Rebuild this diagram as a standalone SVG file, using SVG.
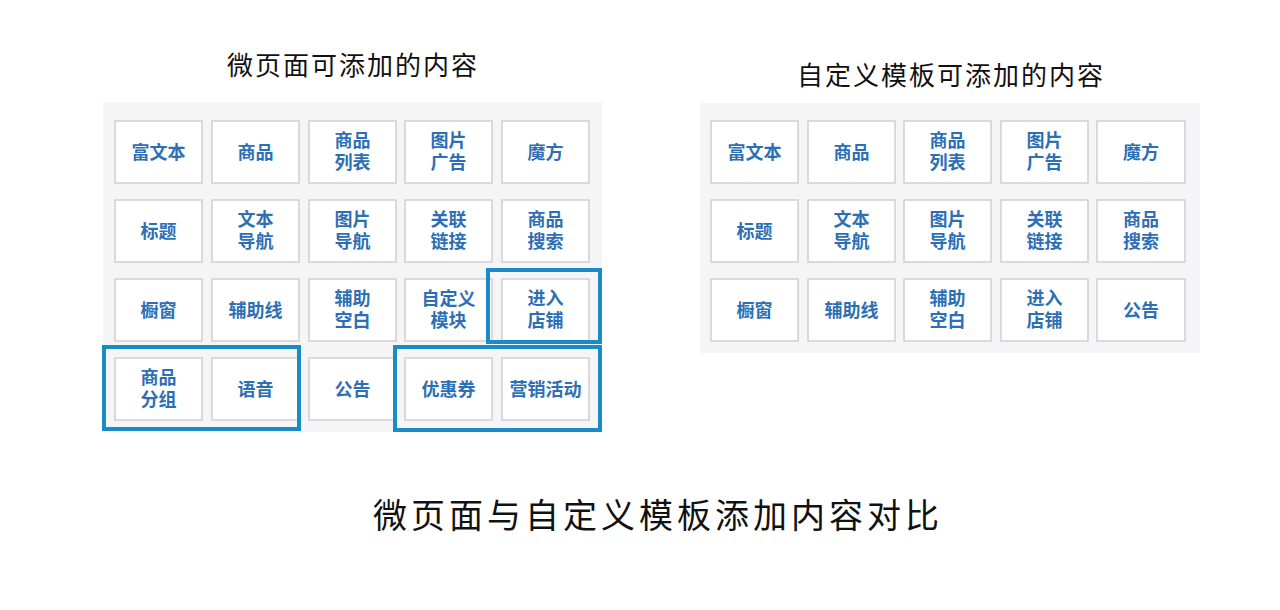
<svg xmlns="http://www.w3.org/2000/svg" width="1280" height="610" viewBox="0 0 1280 610">
<style>
.panel{fill:#f5f5f7}
.cell{fill:#ffffff;stroke:#cfcfd2;stroke-width:1.5}
.t{font-family:"Liberation Sans","Noto Sans CJK SC",sans-serif;font-size:18px;font-weight:700;fill:#2d6fb4;text-anchor:middle}
.title{font-family:"Liberation Sans","Noto Sans CJK SC",sans-serif;font-size:26px;fill:#111;text-anchor:middle;letter-spacing:2px}
.big{font-family:"Liberation Sans","Noto Sans CJK SC",sans-serif;font-size:34px;fill:#111;text-anchor:middle;letter-spacing:4px}
.hl{fill:none;stroke:#1a8bc9;stroke-width:4}
</style>
<rect width="1280" height="610" fill="#ffffff"/>
<text class="title" x="353" y="75">微页面可添加的内容</text>
<text class="title" x="951" y="85">自定义模板可添加的内容</text>
<text class="big" x="658" y="528">微页面与自定义模板添加内容对比</text>

<g id="left-panel">
<rect class="panel" x="103" y="102" width="499" height="330"/>
<g id="L11"><rect class="cell" x="115" y="121" width="87" height="62"/><text class="t" x="158.5" y="158.5">富文本</text></g>
<g id="L12"><rect class="cell" x="212" y="121" width="87" height="62"/><text class="t" x="255.5" y="158.5">商品</text></g>
<g id="L13"><rect class="cell" x="309" y="121" width="87" height="62"/><text class="t" x="352.5" y="147">商品<tspan x="352.5" dy="22">列表</tspan></text></g>
<g id="L14"><rect class="cell" x="405" y="121" width="87" height="62"/><text class="t" x="448.5" y="147">图片<tspan x="448.5" dy="22">广告</tspan></text></g>
<g id="L15"><rect class="cell" x="502" y="121" width="87" height="62"/><text class="t" x="545.5" y="158.5">魔方</text></g>

<g id="L21"><rect class="cell" x="115" y="200" width="87" height="62"/><text class="t" x="158.5" y="237.5">标题</text></g>
<g id="L22"><rect class="cell" x="212" y="200" width="87" height="62"/><text class="t" x="255.5" y="226">文本<tspan x="255.5" dy="22">导航</tspan></text></g>
<g id="L23"><rect class="cell" x="309" y="200" width="87" height="62"/><text class="t" x="352.5" y="226">图片<tspan x="352.5" dy="22">导航</tspan></text></g>
<g id="L24"><rect class="cell" x="405" y="200" width="87" height="62"/><text class="t" x="448.5" y="226">关联<tspan x="448.5" dy="22">链接</tspan></text></g>
<g id="L25"><rect class="cell" x="502" y="200" width="87" height="62"/><text class="t" x="545.5" y="226">商品<tspan x="545.5" dy="22">搜索</tspan></text></g>

<g id="L31"><rect class="cell" x="115" y="279" width="87" height="62"/><text class="t" x="158.5" y="316.5">橱窗</text></g>
<g id="L32"><rect class="cell" x="212" y="279" width="87" height="62"/><text class="t" x="255.5" y="316.5">辅助线</text></g>
<g id="L33"><rect class="cell" x="309" y="279" width="87" height="62"/><text class="t" x="352.5" y="305">辅助<tspan x="352.5" dy="22">空白</tspan></text></g>
<g id="L34"><rect class="cell" x="405" y="279" width="87" height="62"/><text class="t" x="448.5" y="305">自定义<tspan x="448.5" dy="22">模块</tspan></text></g>
<g id="L35"><rect class="cell" x="502" y="279" width="87" height="62"/><text class="t" x="545.5" y="305">进入<tspan x="545.5" dy="22">店铺</tspan></text></g>

<g id="L41"><rect class="cell" x="115" y="358" width="87" height="62"/><text class="t" x="158.5" y="384">商品<tspan x="158.5" dy="22">分组</tspan></text></g>
<g id="L42"><rect class="cell" x="212" y="358" width="87" height="62"/><text class="t" x="255.5" y="395.5">语音</text></g>
<g id="L43"><rect class="cell" x="309" y="358" width="87" height="62"/><text class="t" x="352.5" y="395.5">公告</text></g>
<g id="L44"><rect class="cell" x="405" y="358" width="87" height="62"/><text class="t" x="448.5" y="395.5">优惠券</text></g>
<g id="L45"><rect class="cell" x="502" y="358" width="87" height="62"/><text class="t" x="545.5" y="395.5">营销活动</text></g>
</g>

<g id="highlights">
<rect class="hl" x="488" y="270" width="112" height="72"/>
<rect class="hl" x="395" y="347" width="205" height="83"/>
<rect class="hl" x="104" y="347" width="195" height="82"/>
</g>

<g id="right-panel">
<rect class="panel" x="700" y="103" width="500" height="250"/>
<g id="R11"><rect class="cell" x="711" y="121" width="87" height="62"/><text class="t" x="754.5" y="158.5">富文本</text></g>
<g id="R12"><rect class="cell" x="808" y="121" width="87" height="62"/><text class="t" x="851.5" y="158.5">商品</text></g>
<g id="R13"><rect class="cell" x="904" y="121" width="87" height="62"/><text class="t" x="947.5" y="147">商品<tspan x="947.5" dy="22">列表</tspan></text></g>
<g id="R14"><rect class="cell" x="1001" y="121" width="87" height="62"/><text class="t" x="1044.5" y="147">图片<tspan x="1044.5" dy="22">广告</tspan></text></g>
<g id="R15"><rect class="cell" x="1097" y="121" width="88" height="62"/><text class="t" x="1141" y="158.5">魔方</text></g>

<g id="R21"><rect class="cell" x="711" y="200" width="87" height="62"/><text class="t" x="754.5" y="237.5">标题</text></g>
<g id="R22"><rect class="cell" x="808" y="200" width="87" height="62"/><text class="t" x="851.5" y="226">文本<tspan x="851.5" dy="22">导航</tspan></text></g>
<g id="R23"><rect class="cell" x="904" y="200" width="87" height="62"/><text class="t" x="947.5" y="226">图片<tspan x="947.5" dy="22">导航</tspan></text></g>
<g id="R24"><rect class="cell" x="1001" y="200" width="87" height="62"/><text class="t" x="1044.5" y="226">关联<tspan x="1044.5" dy="22">链接</tspan></text></g>
<g id="R25"><rect class="cell" x="1097" y="200" width="88" height="62"/><text class="t" x="1141" y="226">商品<tspan x="1141" dy="22">搜索</tspan></text></g>

<g id="R31"><rect class="cell" x="711" y="279" width="87" height="62"/><text class="t" x="754.5" y="316.5">橱窗</text></g>
<g id="R32"><rect class="cell" x="808" y="279" width="87" height="62"/><text class="t" x="851.5" y="316.5">辅助线</text></g>
<g id="R33"><rect class="cell" x="904" y="279" width="87" height="62"/><text class="t" x="947.5" y="305">辅助<tspan x="947.5" dy="22">空白</tspan></text></g>
<g id="R34"><rect class="cell" x="1001" y="279" width="87" height="62"/><text class="t" x="1044.5" y="305">进入<tspan x="1044.5" dy="22">店铺</tspan></text></g>
<g id="R35"><rect class="cell" x="1097" y="279" width="88" height="62"/><text class="t" x="1141" y="316.5">公告</text></g>
</g>
</svg>
